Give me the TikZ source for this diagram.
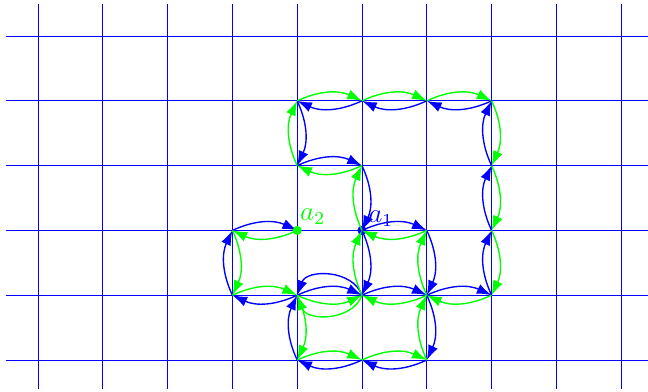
\documentclass[tikz,border=0pt]{standalone}
\usetikzlibrary{arrows.meta}

% steps of the walk from a2 to a1 (site names xy)
\newcommand{\walksteps}{42/32, 32/31, 31/41, 41/40, 40/50, 50/60, 60/61,
  61/62, 62/52, 52/53, 53/43, 43/44, 44/54, 54/64, 64/74, 74/73, 73/72,
  72/71, 71/61, 61/51, 51/52}

\begin{document}
\begin{tikzpicture}[
    >={Latex[length=6.5pt, width=4.5pt]},
    gstep/.style={->, green, line width=0.6pt},
    bstep/.style={->, blue, line width=0.6pt},
    lbl/.style={font=\fontsize{11.5}{13}\selectfont, inner sep=0pt,
                anchor=base west}
  ]
  \useasboundingbox (-0.586,-0.478) rectangle (9.414,5.556);

  % Lattice
  \draw[blue] (-0.5,-0.45) grid (9.45,5.5);

  % Sites
  \foreach \x/\y in {4/4, 5/4, 6/4, 7/4, 4/3, 5/3, 7/3, 3/2, 4/2, 5/2,
                     6/2, 7/2, 3/1, 4/1, 5/1, 6/1, 7/1, 4/0, 5/0, 6/0}
    \coordinate (s\x\y) at (\x,\y);

  % Backward walk (blue)
  \foreach \a/\b in \walksteps
    \draw[bstep] (s\b) to[bend left=25] (s\a);
  \draw[bstep] (s41) to[bend left=25] (s51);
  \draw[bstep] (s51) to[bend right=70, looseness=1.1] (s41);
  \fill[blue] (s52) circle (2pt);

  % Forward walk (green)
  \foreach \a/\b in \walksteps
    \draw[gstep] (s\a) to[bend left=25] (s\b);
  \draw[gstep] (s41) to[bend right=25] (s51);
  \draw[gstep] (s51) to[bend left=70, looseness=1.1] (s41);
  \fill[green] (s42) circle (2pt);

  % Labels
  \node[lbl, text=green] (la2) at (4.04,2.16) {$a_2$};
  \node[lbl, text=blue] (la1) at (5.09,2.13) {$a_1$};
\end{tikzpicture}
\end{document}
